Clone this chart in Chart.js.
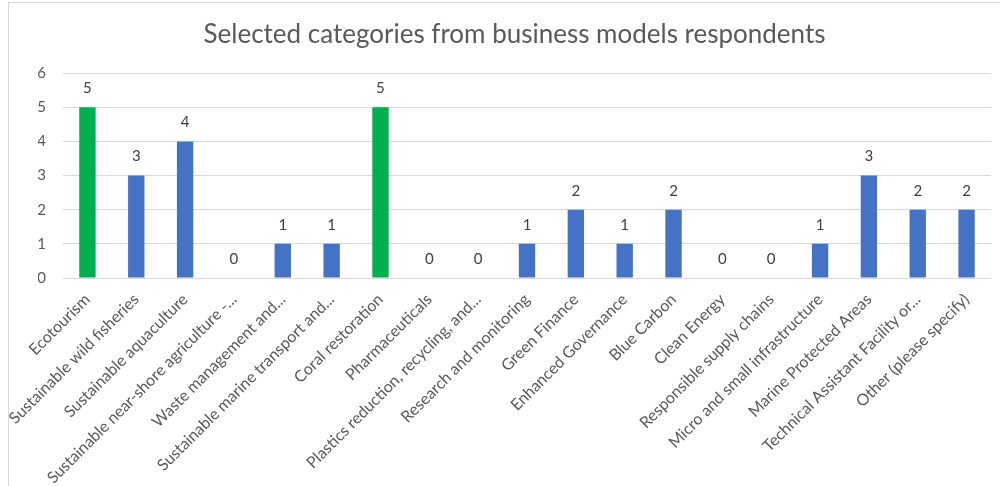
<!DOCTYPE html>
<html>
<head>
<meta charset="utf-8">
<script src="https://cdn.jsdelivr.net/npm/chart.js@4/dist/chart.umd.min.js"></script>
<style>
  html, body { margin: 0; padding: 0; background: #fff; }
  #frame {
    position: absolute; left: 8px; top: 2px;
    width: 991px; height: 483px;
    border-top: 1px solid #d9d9d9; border-left: 1px solid #d9d9d9;
    overflow: hidden;
  }
</style>
</head>
<body>
<div id="frame"><canvas id="chart" width="991" height="483"></canvas></div>
<script>
const categories = [
  'Ecotourism',
  'Sustainable wild fisheries',
  'Sustainable aquaculture',
  'Sustainable near-shore agriculture -...',
  'Waste management and...',
  'Sustainable marine transport and...',
  'Coral restoration',
  'Pharmaceuticals',
  'Plastics reduction, recycling, and...',
  'Research and monitoring',
  'Green Finance',
  'Enhanced Governance',
  'Blue Carbon',
  'Clean Energy',
  'Responsible supply chains',
  'Micro and small infrastructure',
  'Marine Protected Areas',
  'Technical Assistant Facility or...',
  'Other (please specify)'
];
const counts = [5, 3, 4, 0, 1, 1, 5, 0, 0, 1, 2, 1, 2, 0, 0, 1, 3, 2, 2];
const highlighted = ['Ecotourism', 'Coral restoration'];
const yTicks = [0, 1, 2, 3, 4, 5, 6];

const BLUE = '#4472C4';
const GREEN = '#00B050';
const FONT = 'Lato, "Open Sans", sans-serif';

// value labels above each bar, zeros included
const barLabels = {
  id: 'barLabels',
  afterDatasetsDraw(chart) {
    const ctx = chart.ctx;
    const meta = chart.getDatasetMeta(0);
    ctx.save();
    ctx.font = '15px ' + FONT;
    ctx.fillStyle = '#404040';
    ctx.textAlign = 'center';
    ctx.textBaseline = 'middle';
    meta.data.forEach((bar, i) => {
      ctx.fillText(String(counts[i]), bar.x, bar.y - 19);
    });
    ctx.restore();
  }
};

new Chart(document.getElementById('chart'), {
  type: 'bar',
  data: {
    labels: categories,
    datasets: [{
      data: counts,
      backgroundColor: categories.map(c => highlighted.includes(c) ? GREEN : BLUE),
      barPercentage: 0.335,
      categoryPercentage: 1
    }]
  },
  options: {
    responsive: false,
    animation: false,
    layout: { padding: { left: 29, right: 9, top: 0, bottom: 0 } },
    plugins: {
      legend: { display: false },
      tooltip: { enabled: false },
      title: {
        display: true,
        text: 'Selected categories from business models respondents',
        color: '#595959',
        font: { family: FONT, size: 26, weight: 'normal' },
        padding: { top: 16, bottom: 23 }
      }
    },
    scales: {
      x: {
        grid: { display: false, drawTicks: false },
        border: { display: false },
        ticks: {
          autoSkip: false,
          maxRotation: 45,
          minRotation: 45,
          padding: 12,
          color: '#595959',
          font: { family: FONT, size: 16 }
        },
        afterFit(scale) { scale.height = 208; }
      },
      y: {
        min: 0,
        max: 6,
        afterBuildTicks(scale) { scale.ticks = yTicks.map(v => ({ value: v })); },
        grid: { color: '#d9d9d9', lineWidth: 1, drawTicks: false },
        border: { display: false },
        ticks: {
          padding: 17,
          color: '#595959',
          font: { family: FONT, size: 15 }
        },
        afterFit(scale) { scale.width = 25; }
      }
    }
  },
  plugins: [barLabels]
});
</script>
</body>
</html>
